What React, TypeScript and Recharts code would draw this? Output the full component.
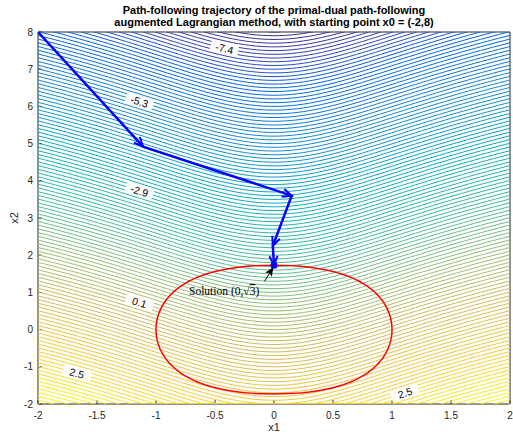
import React from "react";
import { ScatterChart, Scatter, XAxis, YAxis } from "recharts";

// chart frame
const W = 513;
const H = 436;
const margin = { top: 31, right: 2, bottom: 31, left: 37 };
const plotW = W - margin.left - margin.right - 2;
const plotH = H - margin.top - margin.bottom - 2;
const xDomain = [-2, 2];
const yDomain = [-2, 8];
const SX = plotW / (xDomain[1] - xDomain[0]);
const SY = plotH / (yDomain[1] - yDomain[0]);

const xTicks = [-2, -1.5, -1, -0.5, 0, 0.5, 1, 1.5, 2];
const yTicks = [-2, -1, 0, 1, 2, 3, 4, 5, 6, 7, 8];

// contour levels of f(x1,x2) = log(1 + x1^2) - x2
const levelFirst = -8;
const levelLast = 3.6;
const levelStep = 0.1;
const sampleStep = 0.05;

// labelled contours (value, x1 position)
const labelValues = [-7.4, -5.3, -2.9, 0.1, 2.5, 2.5];
const labelX1 = [-0.42, -1.14, -1.14, -1.14, -1.67, 1.11];

// iterates of the method
const pathX1 = [-2, -1.11, 0.15, -0.01, 0];
const pathX2 = [8, 4.92, 3.6, 2.25, 1.732];

// annotation
const noteX1 = -0.72;
const noteX2 = 0.93;
const noteArrowX1 = [-0.08, -0.005];
const noteArrowX2 = [1.3, 1.68];

const PATH_BLUE = "#0000ff";
const AXIS = "#262626";

// parula colormap samples
const parula = [
  [0.0, 0.2081, 0.1663, 0.5292],
  [0.063, 0.1959, 0.2645, 0.7279],
  [0.127, 0.0117, 0.3875, 0.882],
  [0.254, 0.0793, 0.52, 0.8312],
  [0.381, 0.0228, 0.6535, 0.7768],
  [0.508, 0.2178, 0.725, 0.6193],
  [0.635, 0.5709, 0.7485, 0.4494],
  [0.762, 0.8507, 0.7299, 0.336],
  [0.889, 0.988, 0.8066, 0.1794],
  [1.0, 0.9763, 0.9831, 0.0538],
];

function parulaColor(t: number) {
  const v = Math.max(0, Math.min(1, t));
  let k = 0;
  while (k < parula.length - 2 && parula[k + 1][0] < v) k++;
  const a = parula[k];
  const b = parula[k + 1];
  const f = (v - a[0]) / (b[0] - a[0]);
  const c = [1, 2, 3].map((j) => Math.round(255 * (a[j] + f * (b[j] - a[j]))));
  return `rgb(${c[0]},${c[1]},${c[2]})`;
}

const contourX2 = (x1: number, level: number) => Math.log(1 + x1 * x1) - level;

const sampleX1: number[] = [];
for (let i = 0; i <= Math.round(4 / sampleStep); i++) sampleX1.push(-2 + i * sampleStep);

const levels: number[] = [];
for (let k = 0; levelFirst + k * levelStep <= levelLast + 1e-9; k++) {
  levels.push(Number((levelFirst + k * levelStep).toFixed(1)));
}

const inside = (y: number) => y >= yDomain[0] && y <= yDomain[1];

const contours = levels.map((c) => {
  const all = sampleX1.map((x) => ({ x, y: contourX2(x, c) }));
  const pts = all.filter(
    (p, i) => inside(p.y) || (i > 0 && inside(all[i - 1].y)) || (i < all.length - 1 && inside(all[i + 1].y))
  );
  return { level: c, color: parulaColor((c - levelFirst) / (levelLast - levelFirst)), pts };
});

const labelData = labelValues.map((v, i) => {
  const x = labelX1[i];
  const slope = (2 * x) / (1 + x * x);
  const angle = (Math.atan2(-slope * SY, SX) * 180) / Math.PI;
  return { x, y: contourX2(x, v), text: v.toFixed(1), angle };
});

// constraint (1 + x1^2)^2 + x2^2 = 4
const constraintPts: { x: number; y: number }[] = [];
for (let i = 0; i <= 120; i++) {
  const th = -Math.PI / 3 + (i / 120) * ((2 * Math.PI) / 3);
  constraintPts.push({ x: Math.sqrt(Math.max(0, 2 * Math.cos(th) - 1)), y: 2 * Math.sin(th) });
}
for (let i = 0; i <= 120; i++) {
  const th = Math.PI / 3 - (i / 120) * ((2 * Math.PI) / 3);
  constraintPts.push({ x: -Math.sqrt(Math.max(0, 2 * Math.cos(th) - 1)), y: 2 * Math.sin(th) });
}

const pathData = pathX1.map((x, i) => ({
  x,
  y: pathX2[i],
  i,
  dx: i > 0 ? x - pathX1[i - 1] : 0,
  dy: i > 0 ? pathX2[i] - pathX2[i - 1] : 0,
}));

const noteArrow = noteArrowX1.map((x, i) => ({
  x,
  y: noteArrowX2[i],
  i,
  dx: i > 0 ? x - noteArrowX1[i - 1] : 0,
  dy: i > 0 ? noteArrowX2[i] - noteArrowX2[i - 1] : 0,
}));

const Empty = () => <g />;

const PathHead = (props: any) => {
  const { cx, cy, payload } = props;
  if (!payload || payload.i === 0) return <g />;
  const a = Math.atan2(-payload.dy * SY, payload.dx * SX);
  const L = 10;
  const phi = 0.42;
  const b1 = [cx - L * Math.cos(a - phi), cy - L * Math.sin(a - phi)];
  const b2 = [cx - L * Math.cos(a + phi), cy - L * Math.sin(a + phi)];
  const last = payload.i === pathX1.length - 1;
  return (
    <g>
      <polyline
        points={`${b1[0]},${b1[1]} ${cx},${cy} ${b2[0]},${b2[1]}`}
        fill="none"
        stroke={PATH_BLUE}
        strokeWidth={2}
      />
      {last && <circle cx={cx} cy={cy} r={3.5} fill={PATH_BLUE} />}
    </g>
  );
};

const NoteHead = (props: any) => {
  const { cx, cy, payload } = props;
  if (!payload || payload.i === 0) return <g />;
  const a = Math.atan2(-payload.dy * SY, payload.dx * SX);
  const L = 10;
  const phi = 0.4;
  const b1 = [cx - L * Math.cos(a - phi), cy - L * Math.sin(a - phi)];
  const b2 = [cx - L * Math.cos(a + phi), cy - L * Math.sin(a + phi)];
  const m = [cx - 0.7 * L * Math.cos(a), cy - 0.7 * L * Math.sin(a)];
  return <polygon points={`${b1[0]},${b1[1]} ${cx},${cy} ${b2[0]},${b2[1]} ${m[0]},${m[1]}`} fill="#000" />;
};

const ContourLabel = (props: any) => {
  const { cx, cy, payload } = props;
  if (!payload) return <g />;
  return (
    <g transform={`translate(${cx},${cy}) rotate(${payload.angle})`}>
      <rect x={-14} y={-6} width={28} height={12} fill="#fff" />
      <text
        x={0}
        y={0}
        textAnchor="middle"
        dominantBaseline="central"
        fontSize={10.5}
        fontFamily="'Liberation Sans', Arial, sans-serif"
        fill="#000"
      >
        {payload.text}
      </text>
    </g>
  );
};

const NoteText = (props: any) => {
  const { cx, cy } = props;
  return (
    <text x={cx} y={cy} fontSize={11.5} fontFamily="'Liberation Serif', 'Times New Roman', serif" fill="#000">
      Solution (0,√<tspan style={{ textDecoration: "overline" }}>3</tspan>)
    </text>
  );
};

const font = "'Liberation Sans', Arial, Helvetica, sans-serif";

export default function App() {
  return (
    <div style={{ position: "absolute", left: 0, top: 0, width: W, height: H, background: "#fff", fontFamily: font }}>
      <ScatterChart width={W} height={H} margin={margin}>
        <XAxis
          type="number"
          dataKey="x"
          domain={xDomain}
          ticks={xTicks}
          interval={0}
          allowDataOverflow
          height={1}
          tickSize={-4}
          tickMargin={12}
          axisLine={{ stroke: AXIS }}
          tickLine={{ stroke: AXIS }}
          tick={{ fill: AXIS, fontSize: 10, fontFamily: font }}
        />
        <XAxis
          xAxisId="top"
          orientation="top"
          type="number"
          domain={xDomain}
          ticks={xTicks}
          interval={0}
          allowDataOverflow
          height={1}
          tickSize={-4}
          tick={false}
          axisLine={{ stroke: AXIS }}
          tickLine={{ stroke: AXIS }}
        />
        <YAxis
          type="number"
          dataKey="y"
          domain={yDomain}
          ticks={yTicks}
          interval={0}
          allowDataOverflow
          width={1}
          tickSize={-4}
          tickMargin={9}
          axisLine={{ stroke: AXIS }}
          tickLine={{ stroke: AXIS }}
          tick={{ fill: AXIS, fontSize: 10, fontFamily: font }}
        />
        <YAxis
          yAxisId="right"
          orientation="right"
          type="number"
          domain={yDomain}
          ticks={yTicks}
          interval={0}
          allowDataOverflow
          width={1}
          tickSize={-4}
          tick={false}
          axisLine={{ stroke: AXIS }}
          tickLine={{ stroke: AXIS }}
        />
        {contours.map((c) => (
          <Scatter
            key={`c${c.level}`}
            data={c.pts}
            line={{ stroke: c.color, strokeWidth: 1 }}
            shape={Empty}
            isAnimationActive={false}
          />
        ))}
        <Scatter data={labelData} shape={ContourLabel} isAnimationActive={false} />
        <Scatter
          data={constraintPts}
          line={{ stroke: "#ff0000", strokeWidth: 1.5 }}
          shape={Empty}
          isAnimationActive={false}
        />
        <Scatter
          data={noteArrow}
          line={{ stroke: "#000", strokeWidth: 1 }}
          shape={NoteHead}
          isAnimationActive={false}
        />
        <Scatter data={[{ x: noteX1, y: noteX2 }]} shape={NoteText} isAnimationActive={false} />
        <Scatter
          data={pathData}
          line={{ stroke: PATH_BLUE, strokeWidth: 2.5 }}
          shape={PathHead}
          isAnimationActive={false}
        />
      </ScatterChart>
      <div
        style={{
          position: "absolute",
          left: 74,
          top: 4,
          width: 400,
          textAlign: "center",
          fontSize: 11,
          lineHeight: "12px",
          fontWeight: "bold",
          color: "#000",
        }}
      >
        <div>Path-following trajectory of the primal-dual path-following</div>
        <div>augmented Lagrangian method, with starting point x0 = (-2,8)</div>
      </div>
      <div
        style={{
          position: "absolute",
          left: 224,
          top: 421,
          width: 100,
          textAlign: "center",
          fontSize: 11,
          lineHeight: "13px",
          color: AXIS,
        }}
      >
        x1
      </div>
      <div
        style={{
          position: "absolute",
          left: 14,
          top: 218,
          fontSize: 11,
          lineHeight: "13px",
          color: AXIS,
          transform: "translate(-50%, -50%) rotate(-90deg)",
          whiteSpace: "nowrap",
        }}
      >
        x2
      </div>
    </div>
  );
}
